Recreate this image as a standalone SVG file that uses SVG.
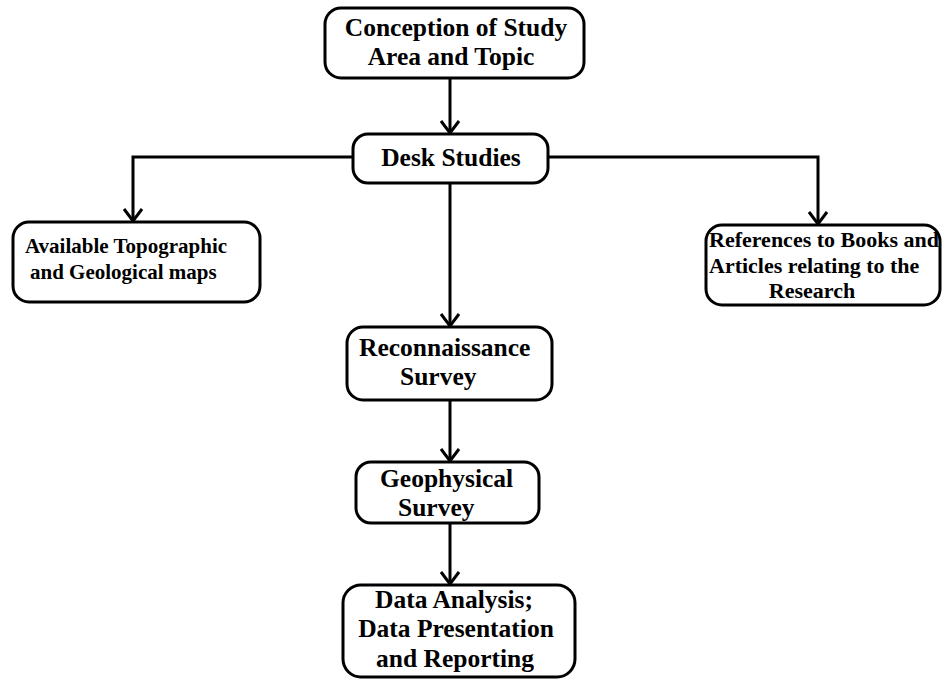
<svg xmlns="http://www.w3.org/2000/svg" width="942" height="680" viewBox="0 0 942 680">
<defs>
<style>
.box{fill:#fff;stroke:#000;stroke-width:3}
.t{font-family:"Liberation Serif","Times New Roman",serif;font-weight:bold;fill:#000}
.big{font-size:25.5px}
.mid{font-size:21px}
.mid2{font-size:22px}
.c{text-anchor:middle}
.ln{fill:none;stroke:#000;stroke-width:3}
</style>
<marker id="ah" markerUnits="userSpaceOnUse" viewBox="0 0 14 20" markerWidth="14" markerHeight="20" refX="13" refY="10" orient="auto">
<path d="M1,1 L13,10 L1,19" fill="none" stroke="#000" stroke-width="3"/>
</marker>
</defs>
<rect width="942" height="680" fill="#fff"/>
<g id="connectors">
<path class="ln" d="M450,78 V133" marker-end="url(#ah)"/>
<path class="ln" d="M353,157 H133 V221" marker-end="url(#ah)"/>
<path class="ln" d="M548,157 H818 V224" marker-end="url(#ah)"/>
<path class="ln" d="M450,183 V326" marker-end="url(#ah)"/>
<path class="ln" d="M450,400 V461" marker-end="url(#ah)"/>
<path class="ln" d="M450,523 V584" marker-end="url(#ah)"/>
</g>
<g id="n-conception">
<rect class="box" x="325" y="8" width="259" height="70" rx="16"/>
<text class="t big c" x="456" y="36">Conception of Study</text>
<text class="t big c" x="451" y="65">Area and Topic</text>
</g>
<g id="n-desk">
<rect class="box" x="353" y="134" width="195" height="49" rx="15"/>
<text class="t big c" x="451" y="166">Desk Studies</text>
</g>
<g id="n-maps">
<rect class="box" x="13" y="222" width="247" height="80" rx="16"/>
<text class="t mid" x="25" y="253">Available Topographic</text>
<text class="t mid" x="30" y="279">and Geological maps</text>
</g>
<g id="n-refs">
<rect class="box" x="706" y="225" width="234" height="80" rx="16"/>
<text class="t mid2" x="709" y="247">References to Books and</text>
<text class="t mid2" x="709" y="273">Articles relating to the</text>
<text class="t mid2 c" x="812" y="298">Research</text>
</g>
<g id="n-recon">
<rect class="box" x="347" y="327" width="205" height="73" rx="16"/>
<text class="t big" x="359" y="356">Reconnaissance</text>
<text class="t big" x="400" y="385">Survey</text>
</g>
<g id="n-geo">
<rect class="box" x="356" y="462" width="183" height="61" rx="15"/>
<text class="t big" x="380" y="487">Geophysical</text>
<text class="t big" x="398" y="516">Survey</text>
</g>
<g id="n-data">
<rect class="box" x="343" y="585" width="232" height="92" rx="18"/>
<text class="t big c" x="454" y="608">Data Analysis;</text>
<text class="t big c" x="456" y="637">Data Presentation</text>
<text class="t big c" x="455" y="667">and Reporting</text>
</g>
</svg>
